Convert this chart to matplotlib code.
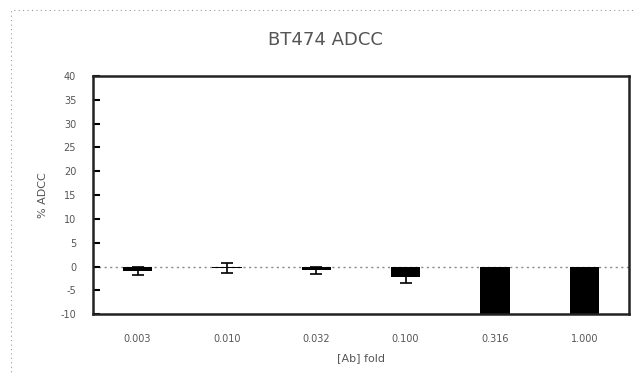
import matplotlib
matplotlib.use("Agg")
import matplotlib.pyplot as plt
from matplotlib.patches import Rectangle

# ADCC response per antibody concentration
concentrations = ["0.003", "0.010", "0.032", "0.100", "0.316", "1.000"]
adcc_mean = [-0.9, -0.3, -0.8, -2.2, -15.0, -15.0]
adcc_err = [0.9, 1.0, 0.8, 1.3, 0.0, 0.0]
y_ticks = list(range(-10, 45, 5))

fig = plt.figure(figsize=(6.36, 3.74), dpi=100)
ax = fig.add_axes([0.146, 0.160, 0.843, 0.637])

x = list(range(len(concentrations)))
ax.bar(x, adcc_mean, width=0.33, color="black", zorder=2)
ax.errorbar(x, adcc_mean, yerr=adcc_err, fmt="none", ecolor="black",
            elinewidth=1.2, capsize=4.5, capthick=1.2, zorder=3)

ax.axhline(0, color="#888888", linestyle=(0, (1.5, 2.5)), linewidth=1.0, zorder=1,
           clip_on=False)

ax.set_xlim(-0.5, len(concentrations) - 0.5)
ax.set_ylim(-10, 40)
ax.set_yticks(y_ticks)
ax.set_yticklabels([str(t) for t in y_ticks], fontsize=7, color="#555555")
ax.set_xticks(x)
ax.set_xticklabels(concentrations, fontsize=7, color="#555555")
ax.tick_params(axis="y", direction="in", length=5, width=1.5, pad=12)
ax.tick_params(axis="x", length=0, pad=14)

for sp in ax.spines.values():
    sp.set_linewidth(1.8)
    sp.set_color("#222222")

ax.set_xlabel("[Ab] fold", fontsize=8, color="#555555", labelpad=7)
ax.set_ylabel("% ADCC", fontsize=8, color="#555555", labelpad=9)
fig.text(0.512, 0.893, "BT474 ADCC", ha="center", va="center",
         fontsize=13, color="#555555")

# dotted frame around the whole figure
fig.patches.append(Rectangle((11 / 636, -0.05), 1.1, 1.05 - 10 / 374,
                             transform=fig.transFigure, fill=False,
                             edgecolor="#999999", linewidth=0.8,
                             linestyle=(0, (1, 3))))

fig.savefig("out.png", dpi=100)
